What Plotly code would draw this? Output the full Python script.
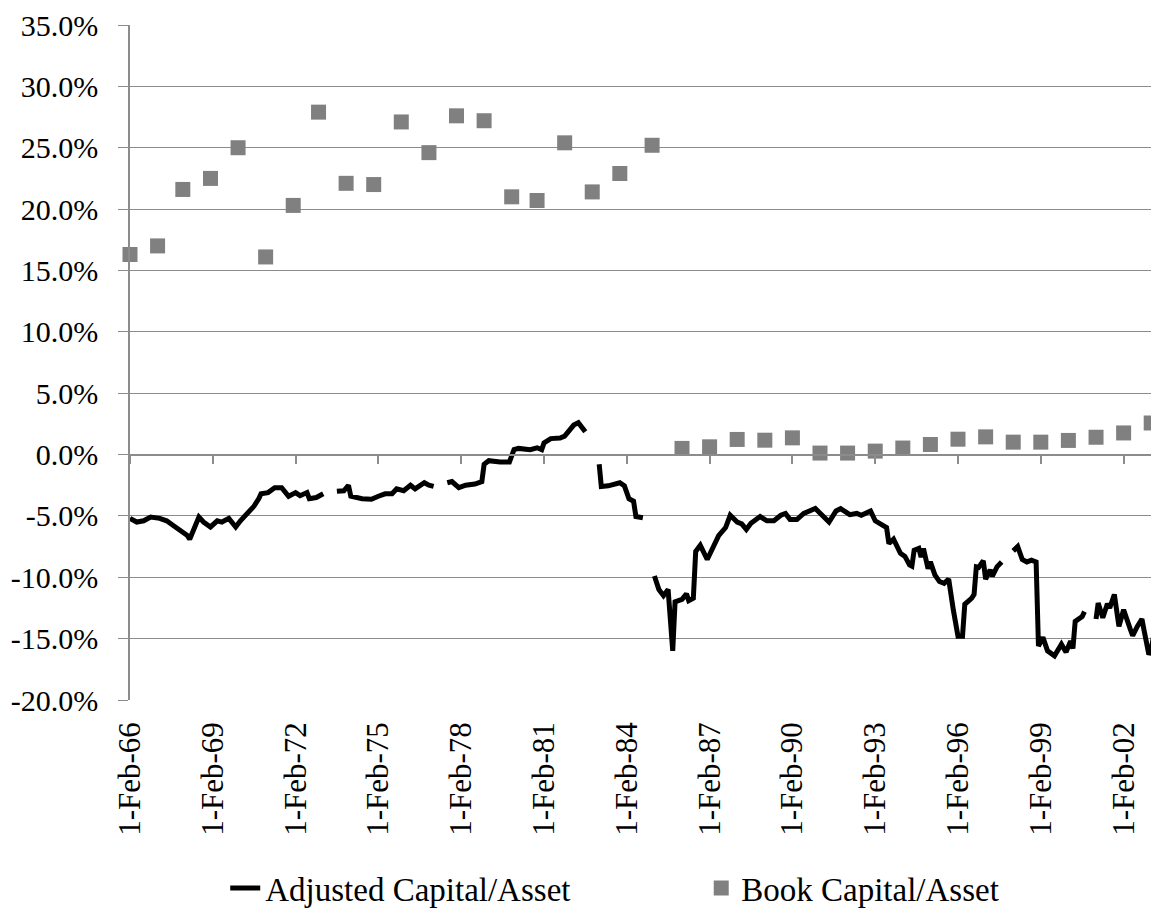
import plotly.graph_objects as go

# --- Adjusted Capital/Asset (readings, None = gap in the series) ---
adj_dates = [
    "1966-02", "1966-05", "1966-08", "1966-11", "1967-03", "1967-06", "1967-09", "1967-12",
    "1968-03", "1968-04", "1968-06", "1968-08", "1968-10", "1969-01", "1969-04", "1969-06",
    "1969-09", "1969-12", "1970-02", "1970-05", "1970-08", "1970-10", "1970-11", "1971-02",
    "1971-05", "1971-08", "1971-11", "1972-02", "1972-04", "1972-07", "1972-08", "1972-11",
    "1973-02", "1973-05",
    "1973-08", "1973-11", "1974-01", "1974-02", "1974-07", "1974-11", "1975-02", "1975-05",
    "1975-08", "1975-10", "1976-01", "1976-04", "1976-06", "1976-09", "1976-10", "1976-12",
    "1977-02", "1977-05",
    "1977-08", "1977-10", "1978-01", "1978-04", "1978-08", "1978-11", "1978-12", "1979-02",
    "1979-07", "1979-11", "1980-01", "1980-03", "1980-08", "1980-11", "1981-01", "1981-02",
    "1981-05", "1981-09", "1981-11", "1982-01", "1982-03", "1982-05", "1982-07", "1982-08",
    "1982-11",
    "1983-02", "1983-03", "1983-06", "1983-11", "1984-01", "1984-03", "1984-05", "1984-06",
    "1984-09", "1984-12",
    "1985-02", "1985-04", "1985-06", "1985-08", "1985-10", "1985-11", "1986-02", "1986-04",
    "1986-05", "1986-07", "1986-08", "1986-10", "1987-01", "1987-03", "1987-06", "1987-09",
    "1987-11", "1988-02", "1988-04", "1988-06", "1988-08", "1988-12", "1989-03", "1989-06",
    "1989-09", "1989-11", "1990-01", "1990-04", "1990-07", "1990-12", "1991-03", "1991-06",
    "1991-09", "1991-11", "1992-03", "1992-06", "1992-08", "1992-12", "1993-02", "1993-05",
    "1993-07", "1993-08", "1993-10", "1994-01", "1994-03", "1994-05", "1994-06", "1994-07",
    "1994-09", "1994-10", "1994-11", "1995-01", "1995-02", "1995-04", "1995-06", "1995-08",
    "1995-10", "1995-12", "1996-02", "1996-04", "1996-05", "1996-08", "1996-09", "1996-10",
    "1996-11", "1997-01", "1997-02", "1997-04", "1997-05", "1997-07", "1997-09",
    "1997-12",
    "1998-02", "1998-04", "1998-06", "1998-08", "1998-10", "1998-12", "1999-01", "1999-03",
    "1999-05", "1999-08", "1999-11", "2000-01", "2000-03", "2000-04", "2000-05", "2000-08",
    "2000-09",
    "2000-12",
    "2001-02", "2001-03", "2001-05", "2001-07", "2001-08", "2001-10", "2001-12", "2002-02",
    "2002-05", "2002-06", "2002-08", "2002-10", "2002-11", "2003-01", "2003-02", "2003-03",
]
adj_values = [
    -5.2, -5.5, -5.4, -5.1, -5.2, -5.4, -5.8, -6.2,
    -6.6, -6.9, -5.9, -5.1, -5.5, -5.9, -5.4, -5.5,
    -5.2, -5.9, -5.4, -4.8, -4.2, -3.6, -3.2, -3.1,
    -2.7, -2.7, -3.4, -3.1, -3.35, -3.1, -3.6, -3.5,
    -3.2, None,
    -3.0, -2.95, -2.5, -3.4, -3.6, -3.65, -3.4, -3.2,
    -3.2, -2.8, -2.95, -2.5, -2.8, -2.4, -2.3, -2.5,
    -2.6, None,
    -2.3, -2.2, -2.7, -2.5, -2.4, -2.2, -0.8, -0.5,
    -0.6, -0.6, 0.4, 0.5, 0.4, 0.55, 0.4, 0.95,
    1.3, 1.35, 1.5, 2.0, 2.4, 2.6, 2.1, 1.85,
    None,
    -0.8, -2.6, -2.55, -2.3, -2.55, -3.6, -3.8, -5.05,
    -5.15, None,
    -9.9, -11.0, -11.5, -11.0, -16.0, -12.0, -11.8, -11.35,
    -11.9, -11.7, -7.9, -7.4, -8.55, -7.8, -6.6, -5.95,
    -4.95, -5.5, -5.65, -6.1, -5.6, -5.05, -5.4, -5.4,
    -4.95, -4.8, -5.3, -5.3, -4.8, -4.4, -4.95, -5.5,
    -4.6, -4.4, -4.9, -4.8, -4.95, -4.6, -5.4, -5.8,
    -5.95, -7.25, -6.9, -8.05, -8.3, -9.0, -9.1, -7.8,
    -7.65, -8.35, -7.65, -9.3, -8.75, -9.8, -10.35, -10.5,
    -10.15, -12.65, -14.8, -14.8, -12.2, -11.7, -11.4, -9.15,
    -9.2, -8.65, -10.15, -9.4, -9.9, -9.15, -8.75,
    None,
    -7.85, -7.5, -8.55, -8.75, -8.6, -8.75, -15.6, -14.9,
    -16.0, -16.4, -15.45, -16.1, -15.2, -15.8, -13.6, -13.2,
    -12.8,
    None,
    -13.4, -12.1, -13.3, -12.15, -12.5, -11.4, -14.0, -12.65,
    -14.25, -14.75, -14.0, -13.4, -14.4, -16.3, -15.9, -14.9,
]

# --- Book Capital/Asset (annual points) ---
book_dates = [
    "1966-02", "1967-02", "1968-01", "1969-01", "1970-01", "1971-01", "1972-01", "1972-12",
    "1973-12", "1974-12", "1975-12", "1976-12", "1977-12", "1978-12", "1979-12", "1980-11",
    "1981-11", "1982-11", "1983-11", "1985-01",
    "1986-02", "1987-02", "1988-02", "1989-02", "1990-02", "1991-02", "1992-02", "1993-02",
    "1994-02", "1995-02", "1996-02", "1997-02", "1998-02", "1999-02", "2000-02", "2001-02",
    "2002-02", "2003-02",
]
book_values = [
    16.3, 17.0, 21.6, 22.5, 25.0, 16.1, 20.3, 27.9,
    22.1, 22.0, 27.1, 24.6, 27.6, 27.2, 21.0, 20.7,
    25.4, 21.4, 22.9, 25.2,
    0.5, 0.63, 1.23, 1.17, 1.36, 0.12, 0.12, 0.28,
    0.53, 0.82, 1.25, 1.44, 1.01, 1.01, 1.15, 1.41,
    1.76, 2.57,
]

y_ticks = [-20, -15, -10, -5, 0, 5, 10, 15, 20, 25, 30, 35]
y_labels = [f"{v:.1f}%" for v in y_ticks]

x_range = ["1966-02-01", "2003-03-10"]
y_range = [-20, 35]

FONT = "Liberation Serif"
GRID = "#8c8c8c"

fig = go.Figure()

fig.add_trace(go.Scatter(
    x=adj_dates, y=adj_values,
    mode="lines",
    line=dict(color="black", width=5),
    connectgaps=False,
    name="Adjusted Capital/Asset",
))

fig.add_trace(go.Scatter(
    x=book_dates, y=book_values,
    mode="markers",
    marker=dict(symbol="square", size=15, color="#808080"),
    cliponaxis=False,
    name="Book Capital/Asset",
    xaxis="x2",
))

# horizontal axis line sits at 0% while its labels stay at the bottom
zero_pos = (0 - y_range[0]) / (y_range[1] - y_range[0])

# page body has an 8px margin, so the figure is trimmed to fit the window
fig.update_layout(
    width=1151, height=911,
    paper_bgcolor="white", plot_bgcolor="white",
    margin=dict(l=122, r=5, t=17, b=219, autoexpand=False),
    font=dict(family=FONT, size=30, color="black"),
    showlegend=True,
    legend=dict(orientation="h", x=0.093, xanchor="left", y=-0.32, yanchor="bottom",
                font=dict(size=33), tracegroupgap=0,
                entrywidth=431, entrywidthmode="pixels"),
    xaxis=dict(
        type="date", range=x_range, automargin=False,
        tick0="1966-02-01", dtick="M36", tickformat="%-d-%b-%y",
        tickangle=-90, showgrid=False, showline=False, ticks="",
        zeroline=False, tickfont=dict(size=31), ticklabelstandoff=15,
    ),
    xaxis2=dict(
        type="date", range=x_range, overlaying="x", anchor="free", position=zero_pos,
        tick0="1966-02-01", dtick="M36", showticklabels=False, automargin=False,
        showline=True, linecolor=GRID, linewidth=1.5,
        ticks="outside", ticklen=9, tickcolor=GRID, tickwidth=1.5,
        showgrid=False, zeroline=False,
    ),
    yaxis=dict(
        range=y_range, tickvals=y_ticks, ticktext=y_labels, automargin=False,
        showgrid=True, gridcolor=GRID, gridwidth=1.2,
        showline=True, linecolor=GRID, linewidth=1.5,
        ticks="outside", ticklen=10, tickcolor=GRID, tickwidth=1.2,
        zeroline=False, tickfont=dict(size=30), ticklabelstandoff=14,
        ticklabeloverflow="allow",
    ),
)

fig.write_html("out.html")
